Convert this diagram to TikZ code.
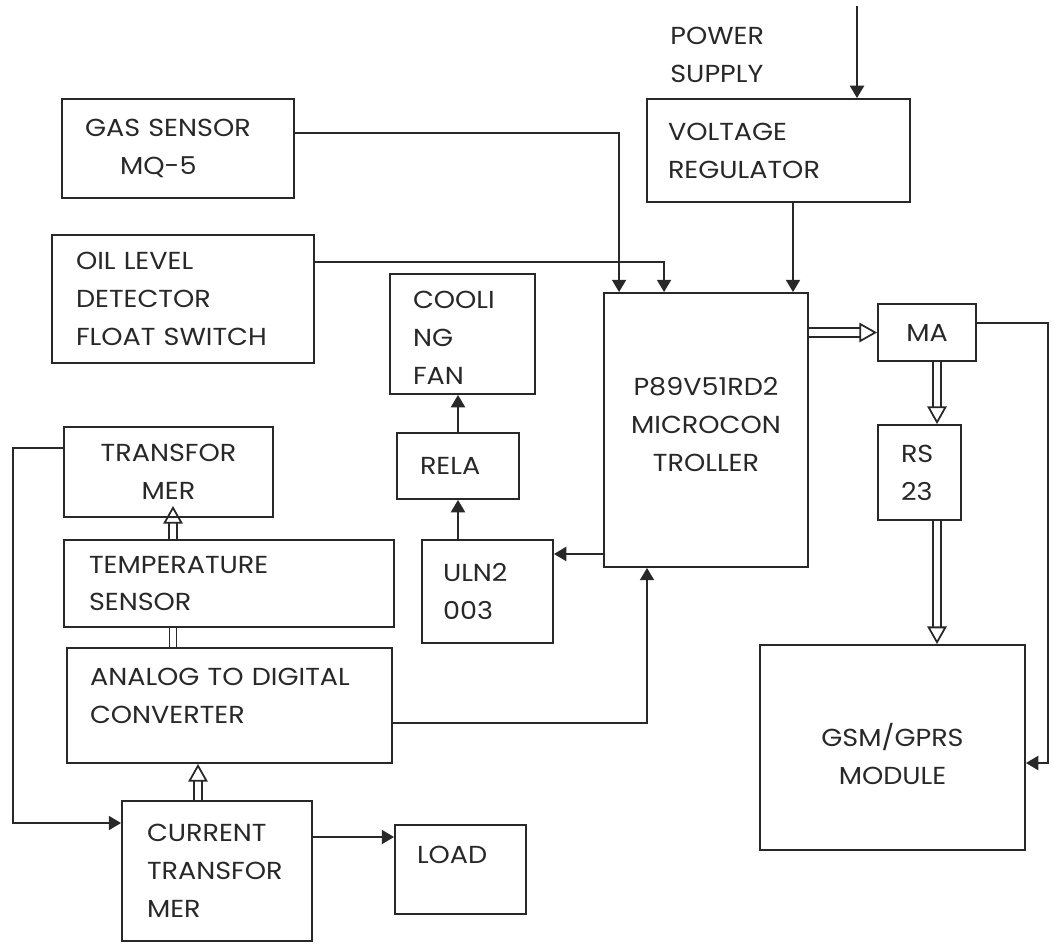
\documentclass[tikz,border=0pt]{standalone}
\usepackage{fontspec}
\setmainfont{Poppins}[FakeStretch=1.1]
\usepackage{tikz}
\usetikzlibrary{arrows.meta,calc}
\definecolor{inkgray}{RGB}{40,40,40}

\begin{document}
\begin{tikzpicture}[
  x=0.02cm, y=-0.02cm,
  font=\fontsize{14}{21.6}\selectfont,
  color=inkgray,
  blk/.style={draw, rectangle, line width=1.1pt, inner ysep=0pt, align=left},
  mid/.style={draw, rectangle, line width=1.1pt, inner sep=0pt, align=center},
  >={Triangle[length=7pt, width=8pt]},
  arrline/.style={->, line width=1.1pt},
  dblarr/.style={double, double distance=3.5pt, line width=1pt, -{Triangle[open, length=10pt, width=11pt]}},
  dblline/.style={double, double distance=3pt, line width=1pt},
]
\useasboundingbox (0,0) rectangle (1053,943);

% ============ Sensor inputs (left top) ============
\node[blk, minimum width=4.64cm, minimum height=1.98cm, inner xsep=0.46cm, text width=3.72cm] (gas) at (178,148.5) {GAS SENSOR\\\hspace*{0.7cm}MQ-5};
\node[blk, minimum width=5.24cm, minimum height=2.56cm, inner xsep=0.48cm, text width=4.28cm] (oil) at (183,299) {OIL LEVEL\\DETECTOR\\FLOAT SWITCH};

% ============ Power ============
\node[align=left, anchor=west, inner sep=0pt] (pwrtxt) at (670,55) {POWER\\SUPPLY};
\coordinate (pwrin) at (857,6);
\node[blk, minimum width=5.26cm, minimum height=2.06cm, inner xsep=0.42cm, text width=4.42cm] (volt) at (778.5,150.5) {VOLTAGE\\REGULATOR};

% ============ Controller ============
\node[mid, minimum width=4.08cm, minimum height=5.48cm] (micro) at (706,430) {P89V51RD2\\MICROCON\\TROLLER\rule[-0.24cm]{0pt}{0pt}};

% ============ Fan driver chain ============
\node[blk, minimum width=2.9cm, minimum height=2.4cm, inner xsep=0.46cm, text width=1.98cm] (fan) at (462.5,334) {\rule{0pt}{0.5cm}COOLI\\NG\\FAN};
\node[blk, minimum width=2.44cm, minimum height=1.32cm, inner xsep=0.46cm, text width=1.52cm] (relay) at (458,466) {RELA};
\node[blk, minimum width=2.62cm, minimum height=2.06cm, inner xsep=0.42cm, text width=1.78cm] (uln) at (487.5,591.5) {ULN2\\003};

% ============ Communication (right) ============
\node[mid, minimum width=1.96cm, minimum height=1.14cm] (ma) at (927,332.5) {MA};
\node[blk, minimum width=1.66cm, minimum height=1.9cm, inner xsep=0.46cm, text width=0.74cm] (rs) at (919.5,472.5) {RS\\23};
\node[mid, minimum width=5.3cm, minimum height=4.1cm] (gsm) at (892.5,747.5) {\rule{0pt}{0.72cm}GSM/GPRS\\MODULE};

% ============ Measurement stack (left bottom) ============
\node[mid, minimum width=4.18cm, minimum height=1.8cm] (trans) at (168.5,472) {TRANSFOR\\MER};
\node[blk, minimum width=6.6cm, minimum height=1.74cm, inner xsep=0.5cm, text width=5.6cm] (temp) at (229,583.5) {TEMPERATURE\\SENSOR};
\node[blk, minimum width=6.5cm, minimum height=2.3cm, inner xsep=0.46cm, text width=5.58cm] (adc) at (229.5,705.5) {ANALOG TO DIGITAL\\CONVERTER\rule[-0.4cm]{0pt}{0pt}};
\node[blk, minimum width=3.8cm, minimum height=2.8cm, inner xsep=0.5cm, text width=2.8cm] (ct) at (217,871) {CURRENT\\TRANSFOR\\MER};
\node[blk, minimum width=2.62cm, minimum height=1.78cm, inner xsep=0.44cm, text width=1.74cm] (load) at (460.5,869.5) {LOAD\rule[-0.58cm]{0pt}{0pt}};

% ===================== ARROWS =====================

% sensors -> controller
\coordinate (gasout) at ([yshift=0.31cm]gas.east);
\coordinate (gasin) at ([xshift=0.32cm]micro.north west);
\draw[arrline] (gasout) -| (gasin);
\coordinate (oilout) at ([yshift=0.74cm]oil.east);
\coordinate (oilin) at ([xshift=1.22cm]micro.north west);
\draw[arrline] (oilout) -| (oilin);

% supply -> regulator -> controller
\draw[arrline] (pwrin) -- (pwrin |- volt.north);
\coordinate (voltout) at ([xshift=0.29cm]volt.south);
\draw[arrline] (voltout) -- (voltout |- micro.north);

% controller -> ULN2003 -> relay -> fan
\coordinate (m2u) at ([yshift=-2.48cm]micro.west);
\draw[arrline] (m2u) -- (m2u -| uln.east);
\draw[arrline] (relay.south |- uln.north) -- (relay.south);
\draw[arrline] (relay.north) -- (relay.north |- fan.south);

% ADC -> controller
\coordinate (a2m) at ([yshift=-0.35cm]adc.east);
\coordinate (m2a) at ([xshift=-1.18cm]micro.south);
\draw[arrline] (a2m) -| (m2a);

% controller => MA => RS 23 => GSM
\draw[dblarr, double distance=4.5pt] (micro.east |- ma.west) -- (ma.west);
\coordinate (ma2rs) at ([xshift=0.2cm]ma.south);
\draw[dblarr] (ma2rs) -- (ma2rs |- rs.north);
\draw[dblarr] (ma2rs |- rs.south) -- (ma2rs |- gsm.north);

% MA -> GSM (right rail)
\coordinate (rail) at (1048,0);
\coordinate (maout) at ([yshift=0.19cm]ma.east);
\coordinate (gsmin) at ([yshift=-0.31cm]gsm.east);
\draw[arrline] (maout) -- (maout -| rail) -- (rail |- gsmin) -- (gsmin);

% transformer -> current transformer (left rail)
\coordinate (lrail) at (13,0);
\coordinate (trout) at ([yshift=0.48cm]trans.west);
\coordinate (ctin) at ([yshift=0.96cm]ct.west);
\draw[arrline] (trout) -- (trout -| lrail) -- (lrail |- ctin) -- (ctin);

% measurement stack links
\coordinate (stk) at (173,0);
\draw[dblarr, shorten >=-0.24cm] (stk |- temp.north) -- (stk |- trans.south);
\draw[dblline] (stk |- temp.south) -- (stk |- adc.north);
\coordinate (cax) at (198,0);
\draw[dblarr] (cax |- ct.north) -- (cax |- adc.south);

% current transformer -> load
\coordinate (c2l) at ([yshift=0.68cm]ct.east);
\draw[arrline] (c2l) -- (c2l -| load.west);

\end{tikzpicture}
\end{document}
